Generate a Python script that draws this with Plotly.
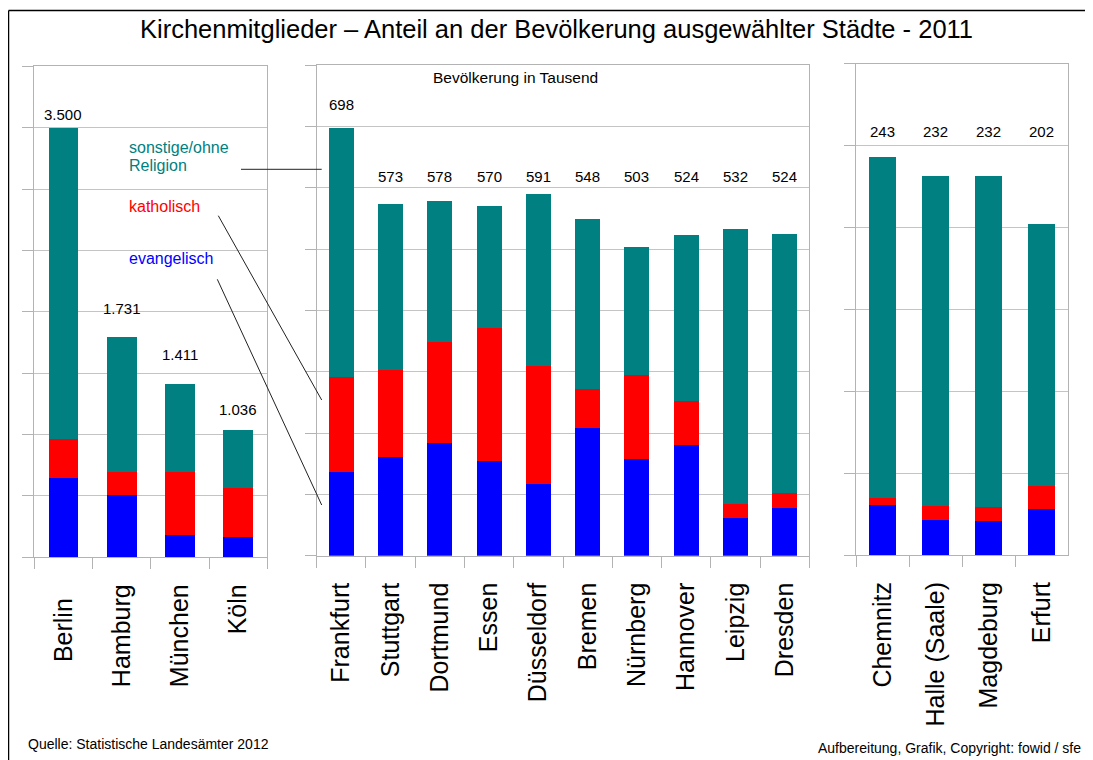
import plotly.graph_objects as go

# ---------------- data (thousands of inhabitants) ----------------
cities_1 = ["Berlin", "Hamburg", "München", "Köln"]
evangelisch_1 = [648, 507, 181, 165]
katholisch_1 = [315, 190, 515, 401]
sonstige_1 = [2537, 1098, 714, 469]
labels_1 = ["3.500", "1.731", "1.411", "1.036"]

cities_2 = ["Frankfurt", "Stuttgart", "Dortmund", "Essen", "Düsseldorf",
            "Bremen", "Nürnberg", "Hannover", "Leipzig", "Dresden"]
evangelisch_2 = [137, 161, 184, 154, 117, 209, 157, 180, 62, 78]
katholisch_2 = [154, 141, 165, 217, 193, 62, 137, 72, 23, 24]
sonstige_2 = [407, 271, 229, 199, 279, 278, 209, 271, 447, 422]
labels_2 = ["698", "573", "578", "570", "591", "548", "503", "524", "532", "524"]

cities_3 = ["Chemnitz", "Halle (Saale)", "Magdeburg", "Erfurt"]
evangelisch_3 = [30.5, 21.6, 20.8, 28.1]
katholisch_3 = [4.5, 8.5, 8.5, 14.2]
sonstige_3 = [208.0, 201.4, 202.2, 159.7]
labels_3 = ["243", "232", "232", "202"]

series_names = ["evangelisch", "katholisch", "sonstige/ohne Religion"]

title_text = "Kirchenmitglieder \u2013 Anteil an der Bevölkerung ausgewählter Städte - 2011"
subtitle_text = "Bevölkerung in Tausend"
source_text = "Quelle: Statistische Landesämter 2012"
credit_text = "Aufbereitung, Grafik, Copyright: fowid / sfe"

# ---------------- style ----------------
PAGE_OFFSET = 8          # default body margin of the html page
W, H = 1093 - PAGE_OFFSET, 760 - PAGE_OFFSET
COLORS = {"evangelisch": "#0000ff", "katholisch": "#ff0000",
          "sonstige/ohne Religion": "#008080"}
FONT = "Liberation Sans, Arial, sans-serif"
GRID = "#c4c4c4"
AXIS = "#b3b3b3"
BAR_WIDTH = 0.51


def px(x):
    """page pixel x -> paper coordinate"""
    return (x - PAGE_OFFSET) / W


def py(y):
    """page pixel y -> paper coordinate"""
    return 1 - (y - PAGE_OFFSET) / H


panels = [
    dict(cats=cities_1, ev=evangelisch_1, ka=katholisch_1, so=sonstige_1, lab=labels_1,
         xdom=(34.3, 267.3), ydom=(557.3, 66.3), yrange=(0, 4000), dtick=500),
    dict(cats=cities_2, ev=evangelisch_2, ka=katholisch_2, so=sonstige_2, lab=labels_2,
         xdom=(316.7, 809.3), ydom=(555.7, 65.0), yrange=(0, 800), dtick=100),
    dict(cats=cities_3, ev=evangelisch_3, ka=katholisch_3, so=sonstige_3, lab=labels_3,
         xdom=(856.3, 1068.3), ydom=(555.0, 63.7), yrange=(0, 300), dtick=50),
]

# tick label padding (Berlin label sits lower in the original)
tick_pad = {"Berlin": "\u00a0\u00a0"}

# label placement: panel 1 -> pixel shift above bar top; panels 2/3 -> fixed row (px)
label_shift_1 = [13, 28, 30, 21]
label_shift_frankfurt = 23
label_row_2 = 176.7
label_row_3 = 131.7

fig = go.Figure()
annotations = []

for i, p in enumerate(panels, start=1):
    xa = "x" if i == 1 else f"x{i}"
    ya = "y" if i == 1 else f"y{i}"
    for name, vals in zip(series_names, [p["ev"], p["ka"], p["so"]]):
        fig.add_trace(go.Bar(
            x=p["cats"], y=vals, name=name, xaxis=xa, yaxis=ya,
            marker=dict(color=COLORS[name], line=dict(width=0)),
            width=BAR_WIDTH, showlegend=False, hoverinfo="x+y+name",
        ))
    totals = [a + b + c for a, b, c in zip(p["ev"], p["ka"], p["so"])]
    for j, (cat, tot, lab) in enumerate(zip(p["cats"], totals, p["lab"])):
        ann = dict(text=lab, showarrow=False, xref=xa, x=cat,
                   font=dict(family=FONT, size=15, color="#000000"),
                   xanchor="center", yanchor="middle")
        if i == 1:
            ann.update(yref=ya, y=tot, yshift=label_shift_1[j])
        elif i == 2 and j == 0:
            ann.update(yref=ya, y=tot, yshift=label_shift_frankfurt)
        elif i == 2:
            ann.update(yref="paper", y=py(label_row_2))
        else:
            ann.update(yref="paper", y=py(label_row_3))
        annotations.append(ann)

    axis_common = dict(showline=True, linecolor=AXIS, linewidth=1, mirror=True,
                       ticks="outside", ticklen=11, tickcolor=AXIS, tickwidth=1)
    xkw = dict(domain=[px(p["xdom"][0]), px(p["xdom"][1])], anchor=ya,
               type="category", tickson="boundaries", showgrid=False,
               tickangle=-90, ticklabelstandoff=16,
               tickmode="array", tickvals=p["cats"],
               ticktext=[c + tick_pad.get(c, "") for c in p["cats"]],
               tickfont=dict(family=FONT, size=25, color="#000000"),
               **axis_common)
    ykw = dict(domain=[py(p["ydom"][0]), py(p["ydom"][1])], anchor=xa,
               range=list(p["yrange"]), dtick=p["dtick"], tick0=0,
               showgrid=True, gridcolor=GRID, gridwidth=1, zeroline=False,
               showticklabels=False, **axis_common)
    fig.update_layout(**{("xaxis" if i == 1 else f"xaxis{i}"): xkw,
                         ("yaxis" if i == 1 else f"yaxis{i}"): ykw})

# legend-like labels in panel 1
legend_items = [
    ("sonstige/ohne", "#008080", 147.7),
    ("Religion", "#008080", 165.7),
    ("katholisch", "#ff0000", 206.7),
    ("evangelisch", "#0000ff", 258.7),
]
for txt, col, yy in legend_items:
    annotations.append(dict(text=txt, showarrow=False, xref="paper", yref="paper",
                            x=px(127), y=py(yy), xanchor="left", yanchor="middle",
                            font=dict(family=FONT, size=16, color=col)))

# connector lines to Frankfurt bar
connectors = [((241, 169.3), (321.7, 169.3)),
              ((218.3, 215.7), (321.7, 400)),
              ((217.3, 279.3), (321.7, 505))]
shapes = []
for (x0, y0), (x1, y1) in connectors:
    shapes.append(dict(type="line", xref="paper", yref="paper",
                       x0=px(x0), y0=py(y0), x1=px(x1), y1=py(y1),
                       line=dict(color="#222222", width=1)))

# outer frame (top and left)
shapes.append(dict(type="line", xref="paper", yref="paper", x0=px(8.6), y0=py(10.5),
                   x1=px(1090), y1=py(10.5), line=dict(color="#000000", width=1.3)))
shapes.append(dict(type="line", xref="paper", yref="paper", x0=px(8.6), y0=py(10.5),
                   x1=px(8.6), y1=py(762), line=dict(color="#000000", width=1.3)))

# texts
annotations.append(dict(text=title_text, showarrow=False, xref="paper", yref="paper",
                        x=px(556.3), y=py(28.5), xanchor="center", yanchor="middle",
                        font=dict(family=FONT, size=25.5, color="#000000")))
annotations.append(dict(text=subtitle_text, showarrow=False, xref="paper", yref="paper",
                        x=px(515.8), y=py(77.3), xanchor="center", yanchor="middle",
                        font=dict(family=FONT, size=15.5, color="#000000")))
annotations.append(dict(text=source_text, showarrow=False, xref="paper", yref="paper",
                        x=px(25.5), y=py(744.3), xanchor="left", yanchor="middle",
                        font=dict(family=FONT, size=14, color="#000000")))
annotations.append(dict(text=credit_text, showarrow=False, xref="paper", yref="paper",
                        x=px(1083), y=py(748.3), xanchor="right", yanchor="middle",
                        font=dict(family=FONT, size=14, color="#000000")))

fig.update_layout(
    width=W, height=H, margin=dict(l=0, r=0, t=0, b=0),
    paper_bgcolor="#ffffff", plot_bgcolor="#ffffff",
    barmode="stack", bargap=0.49,
    annotations=annotations, shapes=shapes,
    font=dict(family=FONT, color="#000000"),
)

fig.write_html("out.html")
